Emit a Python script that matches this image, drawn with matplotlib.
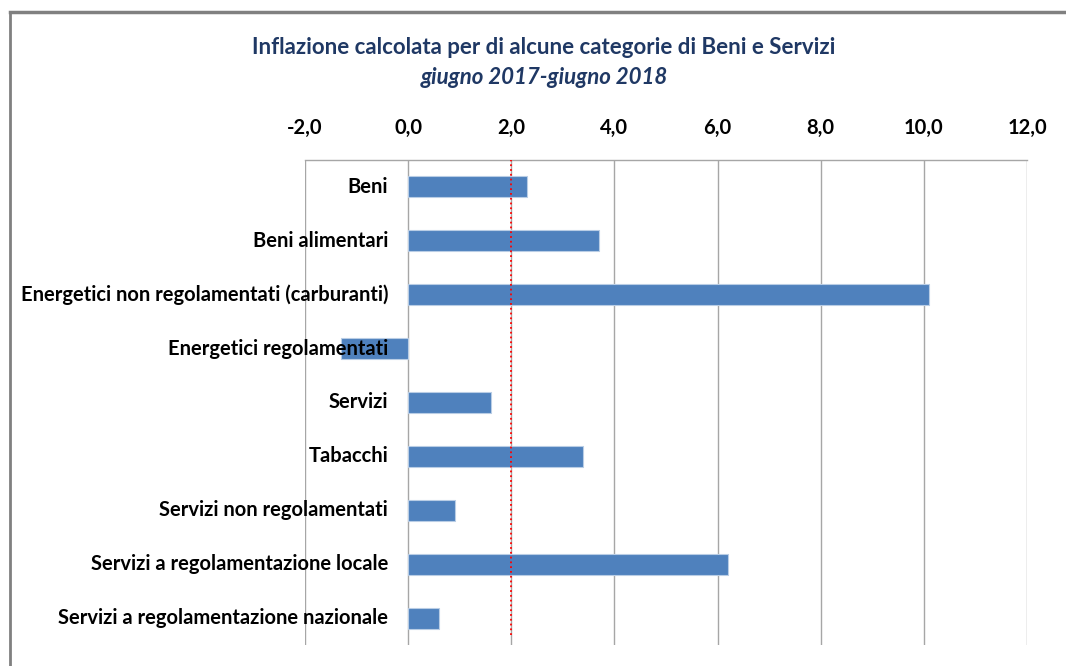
import matplotlib.pyplot as plt
import matplotlib.transforms as mtransforms
from matplotlib.lines import Line2D

categorie = ['Beni', 'Beni alimentari', 'Energetici non regolamentati (carburanti)',
             'Energetici regolamentati', 'Servizi', 'Tabacchi',
             'Servizi non regolamentati', 'Servizi a regolamentazione locale',
             'Servizi a regolamentazione nazionale']
inflazione = [2.3, 3.7, 10.1, -1.3, 1.6, 3.4, 0.9, 6.2, 0.6]
xticks = [-2, 0, 2, 4, 6, 8, 10, 12]
xtick_labels = ['-2,0', '0,0', '2,0', '4,0', '6,0', '8,0', '10,0', '12,0']
riferimento = 2.0

plt.rcParams['font.family'] = ['Lato', 'DejaVu Sans']

fig = plt.figure(figsize=(10.66, 6.66), dpi=100)
ax = fig.add_axes([305/1066, 1 - 645/666, 722/1066, 485/666])

ypos = list(range(len(categorie)))
ax.barh(ypos, inflazione, height=0.39, color='#4f81bd', edgecolor='#b9cde5',
        linewidth=0.8, zorder=3)

ax.set_xlim(-2, 12)
ax.set_ylim(len(categorie) - 0.5, -0.5)
ax.xaxis.tick_top()
ax.set_xticks(xticks)
ax.set_xticklabels(xtick_labels, fontsize=14.5, fontweight='bold')
ax.tick_params(axis='x', length=0, pad=16)
ax.set_yticks([])
ax.grid(axis='x', color='#a6a6a6', linewidth=1.0, zorder=1)
for s in ['left', 'right', 'bottom']:
    ax.spines[s].set_visible(False)
ax.spines['top'].set_color('#a6a6a6')
ax.spines['top'].set_linewidth(1.0)

ax.axvline(riferimento, ymin=0.02, ymax=1, color='red', linestyle=':',
           linewidth=1.3, zorder=4)

# etichette delle categorie vicino all'asse dello zero
off = mtransforms.offset_copy(ax.transData, fig=fig, x=-20, y=0, units='dots')
for y, lab in zip(ypos, categorie):
    ax.text(0, y, lab, transform=off, ha='right', va='center',
            fontsize=14.5, fontweight='bold', color='black', zorder=5)

fig.text(544/1066, 1 - 48/666, 'Inflazione calcolata per di alcune categorie di Beni e Servizi',
         ha='center', va='center', fontsize=16, fontweight='bold', color='#1f3864')
fig.text(544/1066, 1 - 78/666, 'giugno 2017-giugno 2018', ha='center', va='center',
         fontsize=16, fontweight='bold', fontstyle='italic', color='#1f3864')

# cornice del grafico
fig.add_artist(Line2D([10/1066, 1], [1 - 12/666, 1 - 12/666], transform=fig.transFigure,
                      color='#808080', linewidth=2.5))
fig.add_artist(Line2D([10/1066, 10/1066], [1 - 12/666, 0], transform=fig.transFigure,
                      color='#808080', linewidth=2))

fig.savefig('out.png', dpi=100)
